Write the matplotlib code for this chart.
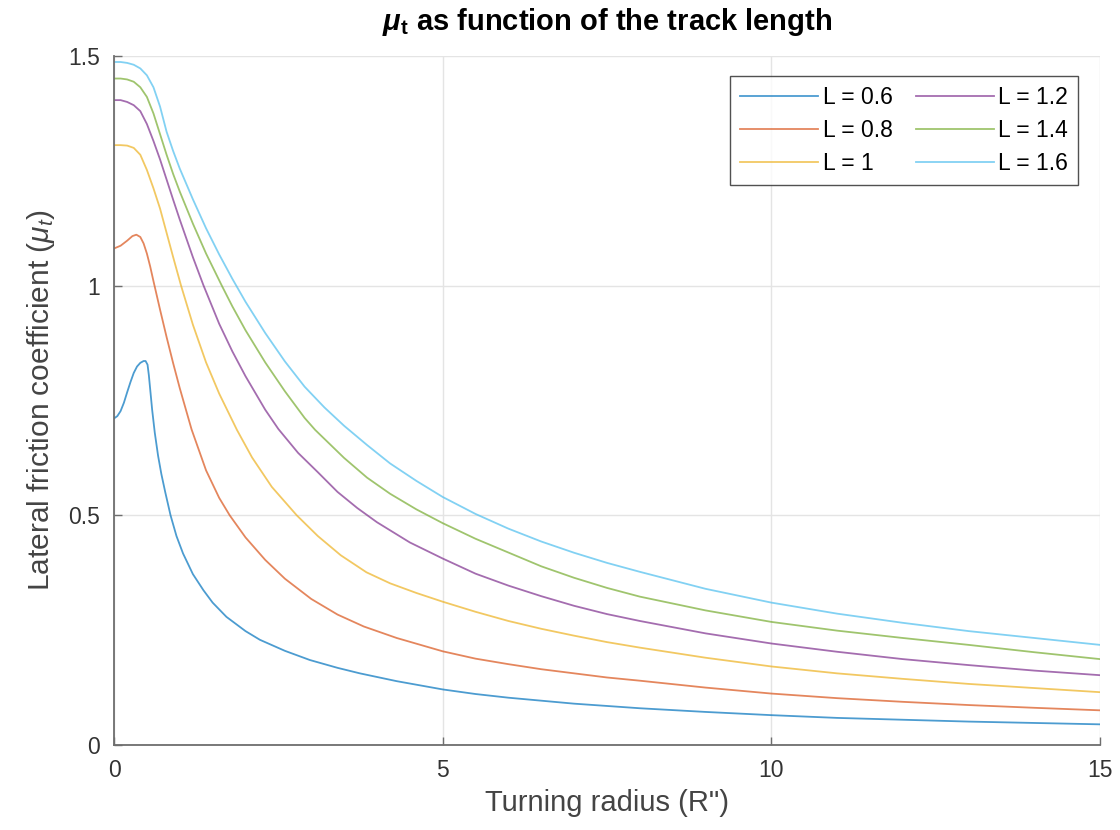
import numpy as np
import matplotlib
matplotlib.use("Agg")
import matplotlib.pyplot as plt

plt.rcParams['font.family'] = ['Liberation Sans', 'DejaVu Sans']
plt.rcParams['mathtext.fontset'] = 'custom'
plt.rcParams['mathtext.rm'] = 'Liberation Sans'
plt.rcParams['mathtext.it'] = 'Liberation Sans:italic'
plt.rcParams['mathtext.bf'] = 'Liberation Sans:bold'
plt.rcParams['mathtext.bfit'] = 'Liberation Sans:italic:bold'

# values
labels = ['L = 0.6', 'L = 0.8', 'L = 1', 'L = 1.2', 'L = 1.4', 'L = 1.6']

x06 = [0, 0.05, 0.1, 0.15, 0.2, 0.25, 0.3, 0.35, 0.4, 0.45, 0.48, 0.51, 0.53, 0.55, 0.58,
       0.62, 0.67, 0.72, 0.78, 0.86, 0.95, 1.05, 1.2, 1.36, 1.5, 1.71, 2.0, 2.22, 2.6, 2.98,
       3.4, 3.74, 4.3, 5, 5.5, 6, 7, 8, 9, 10, 11, 12, 13, 14, 15]
y06 = [0.711, 0.716, 0.727, 0.745, 0.768, 0.790, 0.810, 0.824, 0.832, 0.836, 0.836, 0.828,
       0.805, 0.775, 0.730, 0.680, 0.630, 0.590, 0.550, 0.500, 0.455, 0.417, 0.372, 0.337,
       0.310, 0.279, 0.248, 0.229, 0.205, 0.185, 0.168, 0.156, 0.139, 0.121, 0.111, 0.103,
       0.090, 0.080, 0.072, 0.065, 0.059, 0.055, 0.051, 0.048, 0.045]

x08 = [0, 0.1, 0.2, 0.28, 0.34, 0.40, 0.45, 0.5, 0.55, 0.6, 0.7, 0.8, 0.9, 1.0, 1.18,
       1.4, 1.6, 1.76, 2.0, 2.3, 2.6, 3.0, 3.4, 3.8, 4.3, 5, 5.5, 6, 6.5, 7, 7.5, 8, 9, 10,
       11, 12, 13, 14, 15]
y08 = [1.081, 1.087, 1.098, 1.108, 1.111, 1.106, 1.092, 1.070, 1.042, 1.010, 0.948, 0.888,
       0.831, 0.777, 0.687, 0.598, 0.538, 0.500, 0.452, 0.403, 0.362, 0.318, 0.284, 0.258,
       0.233, 0.204, 0.188, 0.176, 0.165, 0.156, 0.147, 0.140, 0.125, 0.112, 0.102, 0.094,
       0.087, 0.081, 0.0755]

x10 = [0, 0.1, 0.2, 0.3, 0.4, 0.5, 0.6, 0.7, 0.8, 0.9, 1.02, 1.2, 1.4, 1.6, 1.87, 2.1,
       2.4, 2.78, 3.1, 3.45, 3.84, 4.2, 4.6, 5, 5.5, 6, 6.5, 7, 7.5, 8, 9, 10, 11, 12, 13,
       14, 15]
y10 = [1.306, 1.306, 1.305, 1.300, 1.285, 1.252, 1.212, 1.168, 1.115, 1.062, 1.000, 0.915,
       0.833, 0.765, 0.686, 0.626, 0.562, 0.500, 0.455, 0.413, 0.376, 0.352, 0.331, 0.312,
       0.290, 0.270, 0.253, 0.238, 0.224, 0.212, 0.190, 0.171, 0.156, 0.144, 0.133, 0.124,
       0.115]

x12 = [0, 0.1, 0.2, 0.3, 0.4, 0.5, 0.6, 0.7, 0.8, 0.9, 1.0, 1.2, 1.36, 1.6, 1.8, 2.0,
       2.3, 2.5, 2.8, 3.1, 3.4, 3.7, 4.0, 4.5, 5, 5.5, 6, 6.5, 7, 7.5, 8, 9, 10, 11, 12,
       13, 14, 15]
y12 = [1.404, 1.404, 1.400, 1.393, 1.380, 1.352, 1.315, 1.275, 1.231, 1.187, 1.144, 1.062,
       1.001, 0.917, 0.857, 0.803, 0.730, 0.688, 0.636, 0.594, 0.551, 0.516, 0.485, 0.441,
       0.406, 0.373, 0.347, 0.324, 0.303, 0.285, 0.270, 0.243, 0.221, 0.203, 0.187, 0.174,
       0.162, 0.152]

x14 = [0, 0.1, 0.2, 0.3, 0.4, 0.5, 0.6, 0.7, 0.8, 0.9, 1.0, 1.2, 1.4, 1.64, 1.8, 2.0,
       2.3, 2.6, 2.9, 3.06, 3.5, 3.85, 4.2, 4.6, 5, 5.5, 6, 6.5, 7, 7.5, 8, 9, 10, 11, 12,
       13, 14, 15]
y14 = [1.451, 1.451, 1.449, 1.444, 1.432, 1.411, 1.375, 1.330, 1.285, 1.243, 1.205, 1.135,
       1.070, 1.000, 0.955, 0.903, 0.833, 0.770, 0.712, 0.686, 0.625, 0.582, 0.547, 0.513,
       0.483, 0.449, 0.419, 0.389, 0.364, 0.342, 0.323, 0.293, 0.268, 0.249, 0.233, 0.218,
       0.202, 0.187]

x16 = [0, 0.1, 0.2, 0.3, 0.4, 0.5, 0.6, 0.7, 0.8, 0.9, 1.0, 1.2, 1.4, 1.6, 1.8, 2.0,
       2.3, 2.6, 2.9, 3.2, 3.5, 3.85, 4.2, 4.6, 5, 5.5, 6, 6.5, 7, 7.5, 8, 9, 10, 11, 12,
       13, 14, 15]
y16 = [1.487, 1.487, 1.485, 1.481, 1.473, 1.458, 1.432, 1.390, 1.335, 1.293, 1.255, 1.188,
       1.125, 1.068, 1.015, 0.965, 0.897, 0.835, 0.780, 0.735, 0.695, 0.653, 0.613, 0.575,
       0.540, 0.503, 0.471, 0.443, 0.4185, 0.3965, 0.377, 0.340, 0.310, 0.286, 0.266, 0.248,
       0.233, 0.218]

xs = [x06, x08, x10, x12, x14, x16]
ys = [y06, y08, y10, y12, y14, y16]
colors = ['#0072BD', '#D95319', '#EDB120', '#7E2F8E', '#77AC30', '#4DBEEE']

fig = plt.figure(figsize=(11.2, 8.3), dpi=100)
ax = fig.add_axes([0.1018, 0.1024, 0.8804, 0.8301])

for x, y, c, lab in zip(xs, ys, colors, labels):
    ax.plot(x, y, color=c, lw=1.3, alpha=0.7, label=lab)

ax.set_xlim(0, 15)
ax.set_ylim(0, 1.5)
ax.set_xticks([0, 5, 10, 15])
ax.set_xticklabels(['0', '5', '10', '15'])
ax.set_yticks([0, 0.5, 1, 1.5])
ax.set_yticklabels(['0', '0.5', '1', '1.5'])

ax.grid(True, color='#e4e4e4', lw=1)
ax.set_axisbelow(True)
for s in ['top', 'right']:
    ax.spines[s].set_visible(False)
for s in ['left', 'bottom']:
    ax.spines[s].set_color('#6e6e6e')
    ax.spines[s].set_linewidth(1.3)
ax.tick_params(direction='in', length=6, width=1, color='#6e6e6e',
               labelsize=16.5, labelcolor='#333333', pad=10)

ax.set_xlabel('Turning radius (R")', fontsize=21, color='#444444', labelpad=5)
ax.set_ylabel(r'Lateral friction coefficient ($\mu_t$)', fontsize=21.5,
              color='#444444', labelpad=8)
ax.set_title(r'$\boldsymbol{\mu}_{\mathbf{t}}$ as function of the track length',
             fontsize=21, fontweight='bold', pad=19)

leg = ax.legend(ncol=2, loc='upper right', bbox_to_anchor=(0.978, 0.971),
                borderaxespad=0, fontsize=16.5, frameon=True, fancybox=False,
                handlelength=3.4, labelspacing=0.42, columnspacing=1.0,
                handletextpad=0.2, borderpad=0.45)
leg.get_frame().set_edgecolor('#262626')
leg.get_frame().set_linewidth(1.0)

fig.savefig('out.png', dpi=100)
